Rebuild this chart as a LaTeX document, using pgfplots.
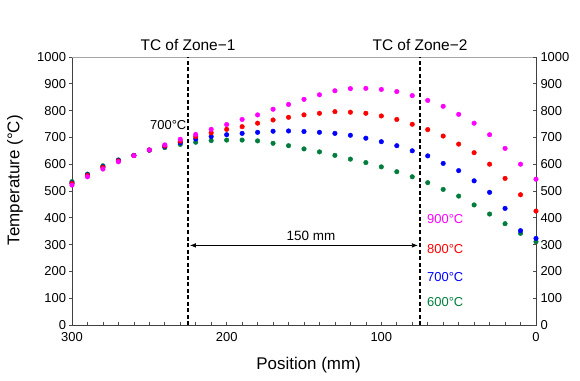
\documentclass[border=0pt]{standalone}
\usepackage{fontspec}
\setmainfont{Liberation Sans}
\usepackage{pgfplots}
\pgfplotsset{compat=1.18}
\usepackage{pgfplotstable}
\usetikzlibrary{arrows.meta}
\definecolor{cmag}{RGB}{255,0,255}
\definecolor{cred}{RGB}{255,0,0}
\definecolor{cblue}{RGB}{0,0,255}
\definecolor{cgreen}{RGB}{0,125,60}

\pgfplotstableread{
pos m r b g
300 522 528 530 535
290 553 558 560 563
280 582 588 590 594
270 609 612 614 616
260 632 632 633 633
250 653 653 653 652
240 672 668 666 662
230 693 686 680 674
220 711 703 694 682
210 730 717 703 688
200 748 730 710 690
190 767 740 715 690
180 784 753 719 687
170 805 765 723 678
160 823 775 724 669
150 842 784 722 657
140 859 790 719 646
130 874 796 715 633
120 882 794 708 619
110 883 790 697 606
100 879 780 684 590
90 871 767 669 572
80 856 749 650 553
70 838 729 631 531
60 816 705 603 506
50 786 675 576 481
40 753 643 538 448
30 710 600 495 414
20 659 547 435 378
10 600 486 352 342
0 544 425 323 311
}\datatable

\begin{document}
\begin{tikzpicture}
\path[use as bounding box] (-72bp,-56bp) rectangle (508bp,325bp);
\begin{axis}[
  at={(0,0)}, anchor=south west,
  width=464bp, height=268bp, scale only axis,
  xmin=0, xmax=300, x dir=reverse,
  ymin=0, ymax=1000,
  axis line style={draw=none},
  xtick={0,100,200,300},
  minor xtick={10,20,...,290},
  xtick pos=bottom,
  ytick={0,100,...,1000},
  ytick pos=left,
  x tick style={black!70, line width=0.6bp},
  y tick style={black!70, line width=0.6bp},
  xtick align=inside,
  ytick align=outside,
  major tick length=3bp, minor tick length=3bp,
  /pgf/number format/assume math mode=true,
  /pgf/number format/1000 sep={},
  tick label style={font=\fontsize{13}{15}\selectfont, inner sep=1bp},
  xticklabel style={yshift=-6.3bp},
  yticklabel style={xshift=-1.8bp},
  xlabel={Position (mm)},
  ylabel={Temperature (°C)},
  label style={font=\fontsize{17}{19}\selectfont},
  xlabel style={at={(axis description cs:0.51,-0.149)}, anchor=center},
  ylabel style={at={(axis description cs:-0.123,0.54)}, anchor=center, rotate=0},
  clip=false,
]
\draw[black!75, line width=0.8bp] (rel axis cs:0,1) -- (rel axis cs:0,0) -- (rel axis cs:1,0) -- (rel axis cs:1,1);
\draw[black!35, line width=0.8bp] (rel axis cs:0,1) -- (rel axis cs:1,1);

\draw[black, line width=1.2bp, dash pattern=on 4bp off 2.5bp] (axis cs:225,0) -- (axis cs:225,1000);
\draw[black, line width=1.2bp, dash pattern=on 4bp off 2.5bp] (axis cs:75,0) -- (axis cs:75,1000);

\addplot[only marks, mark=*, mark size=2.3bp, color=cgreen] table[x=pos, y=g] {\datatable};
\addplot[only marks, mark=*, mark size=2.3bp, color=cblue] table[x=pos, y=b] {\datatable};
\addplot[only marks, mark=*, mark size=2.3bp, color=cred] table[x=pos, y=r] {\datatable};
\addplot[only marks, mark=*, mark size=2.3bp, color=cmag] table[x=pos, y=m] {\datatable};

\draw[{Latex[length=6bp,width=4.5bp]}-{Latex[length=6bp,width=4.5bp]}, line width=0.7bp] (axis cs:223.8,297) -- (axis cs:76.3,297);
\node[font=\fontsize{13.5}{15}\selectfont, anchor=base] at (axis cs:145.5,317) {150 mm};

\node[font=\fontsize{15.5}{17}\selectfont, anchor=base, yshift=6.3bp] at (axis cs:225,1000) {TC of Zone−1};
\node[font=\fontsize{15.5}{17}\selectfont, anchor=base, yshift=6.3bp] at (axis cs:75,1000) {TC of Zone−2};

\node[font=\fontsize{13}{15}\selectfont, anchor=east, inner sep=0pt, xshift=-1.5bp] at (axis cs:225,745) {700°C};

\node[font=\fontsize{13}{15}\selectfont, anchor=west, inner sep=0pt, text=cmag] at (axis cs:70.5,397) {900°C};
\node[font=\fontsize{13}{15}\selectfont, anchor=west, inner sep=0pt, text=cred] at (axis cs:70.5,285) {800°C};
\node[font=\fontsize{13}{15}\selectfont, anchor=west, inner sep=0pt, text=cblue] at (axis cs:70.5,179) {700°C};
\node[font=\fontsize{13}{15}\selectfont, anchor=west, inner sep=0pt, text=cgreen] at (axis cs:70.5,84) {600°C};
\end{axis}
\begin{axis}[
  at={(0,0)}, anchor=south west,
  width=464bp, height=268bp, scale only axis,
  xmin=0, xmax=300, x dir=reverse,
  ymin=0, ymax=1000,
  hide x axis,
  axis y line*=right,
  y axis line style={draw=none},
  ytick={0,100,...,1000},
  ytick align=inside,
  major tick length=3bp,
  y tick style={black!70, line width=0.6bp},
  /pgf/number format/assume math mode=true,
  /pgf/number format/1000 sep={},
  tick label style={font=\fontsize{13}{15}\selectfont, inner sep=1bp},
  yticklabel style={xshift=3.3bp},
]
\end{axis}
\end{tikzpicture}
\end{document}
